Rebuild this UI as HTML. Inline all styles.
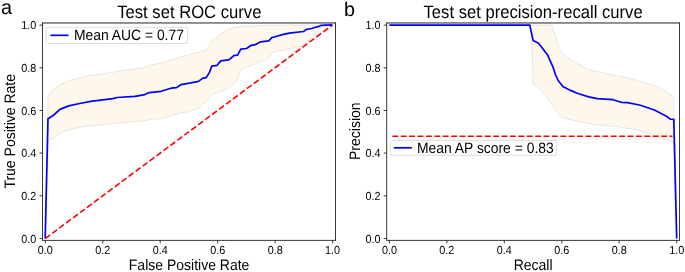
<!DOCTYPE html>
<html><head><meta charset="utf-8"><title>ROC / PR curves</title>
<style>
html,body{margin:0;padding:0;background:#fff;}
body{width:685px;height:272px;overflow:hidden;font-family:"Liberation Sans",sans-serif;}
svg{display:block;will-change:transform;}
text{font-family:"Liberation Sans",sans-serif;fill:#000;text-rendering:geometricPrecision;}
.tk{font-size:10.8px;}
.lb{font-size:14.0px;}
.lg{font-size:13.9px;}
.tt{font-size:16.65px;}
.pl{font-size:19.8px;}
</style></head><body>
<svg width="685" height="272" viewBox="0 0 685 272">
<rect x="0" y="0" width="685" height="272" fill="#ffffff"/>

<polygon points="45.2,238.5 48.1,97.5 49.9,93.1 55.4,87.6 62.1,83.8 68.7,81.0 84.1,76.5 106.2,73.2 128.2,69.9 143.7,67.7 150.3,65.0 161.0,63.0 172.1,59.7 183.1,56.4 194.1,53.1 205.1,50.9 208.5,46.5 212.9,38.8 218.4,36.5 222.8,32.1 229.4,29.3 233.8,27.7 242.7,26.6 253.7,26.0 260.3,25.3 332.2,25.1 332.2,25.1 322.5,25.3 321.2,26.5 318.8,30.6 315.3,33.5 311.8,38.8 305.3,42.4 302.4,46.1 295.3,47.6 283.5,50.0 272.3,52.2 269.9,56.4 266.5,60.0 262.5,60.7 253.7,64.4 241.6,68.8 239.3,73.2 236.0,82.1 229.4,87.6 222.8,90.9 212.9,94.2 208.5,99.7 202.9,104.1 198.5,108.5 187.5,111.8 176.5,114.0 163.2,118.5 150.3,119.6 143.7,121.0 128.2,122.1 106.2,124.3 84.1,126.5 68.7,129.8 59.9,133.5 53.2,138.6 48.1,140.4 45.2,238.5" fill="#fef8ec" stroke="rgba(120,120,120,0.22)" stroke-width="0.8" stroke-linejoin="round"/>
<g transform="scale(1,1.095)"><line x1="45.3" y1="217.81" x2="332.4" y2="22.92" stroke="#ff0000" stroke-width="1.5" stroke-dasharray="5.8 2.6"/></g>
<polyline points="45.2,238.5 48.0,118.8 53.2,115.5 59.9,109.4 68.7,105.9 79.7,103.5 90.7,101.3 112.8,98.6 117.2,97.5 134.9,96.4 144.8,94.6 149.2,92.6 161.0,91.3 171.0,88.2 176.5,87.6 180.9,84.7 189.7,83.2 198.5,81.4 202.9,78.1 206.3,77.6 209.6,72.1 211.8,66.1 217.1,65.3 220.8,60.9 228.8,59.8 234.1,55.5 237.6,55.1 240.8,49.2 246.5,48.5 251.2,45.3 255.3,44.7 260.6,41.8 268.8,40.9 271.8,37.6 275.9,36.5 283.5,34.4 289.4,33.2 303.5,31.5 306.5,29.4 311.8,28.5 315.3,27.3 318.8,26.5 321.2,25.3 332.4,24.9" fill="none" stroke="#0000ff" stroke-width="1.7" stroke-linejoin="round" stroke-linecap="butt"/>
<polygon points="389.4,25.1 551.5,25.1 555.1,34.9 558.5,45.9 561.8,52.5 566.2,56.9 575.0,62.5 583.8,67.0 588.8,70.1 602.1,72.7 615.3,75.4 628.5,78.2 644.0,82.6 655.0,85.7 663.8,90.2 670.4,94.5 673.8,97.5 676.7,238.5 676.7,238.5 673.8,141.9 665.8,139.7 650.4,134.1 637.1,129.7 615.0,126.4 593.0,124.2 575.3,120.9 562.1,117.6 556.6,112.1 552.1,105.0 547.4,98.6 538.6,87.6 533.1,84.3 532.6,60.0 531.5,40.0 529.8,25.1 389.4,25.1" fill="#fef8ec" stroke="rgba(120,120,120,0.22)" stroke-width="0.8" stroke-linejoin="round"/>
<line x1="392.4" y1="136.2" x2="672.5" y2="136.2" stroke="#ff0000" stroke-width="1.5" stroke-dasharray="5.8 2.6"/>
<polyline points="389.4,25.1 529.8,25.1 533.1,40.4 538.6,43.2 547.4,54.7 552.9,66.8 555.6,75.0 558.5,81.0 562.9,86.5 570.6,90.4 577.2,93.3 588.6,96.9 597.4,98.7 613.1,99.7 621.9,102.5 627.4,102.6 639.5,105.0 654.4,110.0 666.9,116.5 670.2,119.1 673.8,119.4 676.7,238.5" fill="none" stroke="#0000ff" stroke-width="1.7" stroke-linejoin="round"/>
<line x1="42.1" y1="22.97" x2="335.9" y2="22.97" stroke="#222" stroke-width="1.0"/>
<line x1="42.5" y1="240.4" x2="335.5" y2="240.4" stroke="#222" stroke-width="0.9"/>
<line x1="42.5" y1="22.57" x2="42.5" y2="240.8" stroke="#222" stroke-width="0.9"/>
<line x1="335.5" y1="22.57" x2="335.5" y2="240.8" stroke="#222" stroke-width="0.9"/>
<line x1="45.3" y1="240.4" x2="45.3" y2="243.4" stroke="#222" stroke-width="0.9"/>
<line x1="39.5" y1="238.5" x2="42.5" y2="238.5" stroke="#222" stroke-width="0.9"/>
<text class="tk" transform="translate(45.30,254.30) scale(1,1.08)" text-anchor="middle">0.0</text>
<text class="tk" transform="translate(36.20,242.70) scale(1,1.08)" text-anchor="end">0.0</text>
<line x1="102.8" y1="240.4" x2="102.8" y2="243.4" stroke="#222" stroke-width="0.9"/>
<line x1="39.5" y1="195.8" x2="42.5" y2="195.8" stroke="#222" stroke-width="0.9"/>
<text class="tk" transform="translate(102.76,254.30) scale(1,1.08)" text-anchor="middle">0.2</text>
<text class="tk" transform="translate(36.20,200.02) scale(1,1.08)" text-anchor="end">0.2</text>
<line x1="160.2" y1="240.4" x2="160.2" y2="243.4" stroke="#222" stroke-width="0.9"/>
<line x1="39.5" y1="153.1" x2="42.5" y2="153.1" stroke="#222" stroke-width="0.9"/>
<text class="tk" transform="translate(160.22,254.30) scale(1,1.08)" text-anchor="middle">0.4</text>
<text class="tk" transform="translate(36.20,157.34) scale(1,1.08)" text-anchor="end">0.4</text>
<line x1="217.7" y1="240.4" x2="217.7" y2="243.4" stroke="#222" stroke-width="0.9"/>
<line x1="39.5" y1="110.5" x2="42.5" y2="110.5" stroke="#222" stroke-width="0.9"/>
<text class="tk" transform="translate(217.68,254.30) scale(1,1.08)" text-anchor="middle">0.6</text>
<text class="tk" transform="translate(36.20,114.66) scale(1,1.08)" text-anchor="end">0.6</text>
<line x1="275.1" y1="240.4" x2="275.1" y2="243.4" stroke="#222" stroke-width="0.9"/>
<line x1="39.5" y1="67.8" x2="42.5" y2="67.8" stroke="#222" stroke-width="0.9"/>
<text class="tk" transform="translate(275.14,254.30) scale(1,1.08)" text-anchor="middle">0.8</text>
<text class="tk" transform="translate(36.20,71.98) scale(1,1.08)" text-anchor="end">0.8</text>
<line x1="332.6" y1="240.4" x2="332.6" y2="243.4" stroke="#222" stroke-width="0.9"/>
<line x1="39.5" y1="25.1" x2="42.5" y2="25.1" stroke="#222" stroke-width="0.9"/>
<text class="tk" transform="translate(332.60,254.30) scale(1,1.08)" text-anchor="middle">1.0</text>
<text class="tk" transform="translate(36.20,29.30) scale(1,1.08)" text-anchor="end">1.0</text>
<line x1="386.3" y1="22.97" x2="679.9" y2="22.97" stroke="#222" stroke-width="1.0"/>
<line x1="386.7" y1="240.4" x2="679.5" y2="240.4" stroke="#222" stroke-width="0.9"/>
<line x1="386.7" y1="22.57" x2="386.7" y2="240.8" stroke="#222" stroke-width="0.9"/>
<line x1="679.5" y1="22.57" x2="679.5" y2="240.8" stroke="#222" stroke-width="0.9"/>
<line x1="389.4" y1="240.4" x2="389.4" y2="243.4" stroke="#222" stroke-width="0.9"/>
<line x1="383.7" y1="238.5" x2="386.7" y2="238.5" stroke="#222" stroke-width="0.9"/>
<text class="tk" transform="translate(389.40,254.30) scale(1,1.08)" text-anchor="middle">0.0</text>
<text class="tk" transform="translate(380.40,242.70) scale(1,1.08)" text-anchor="end">0.0</text>
<line x1="446.9" y1="240.4" x2="446.9" y2="243.4" stroke="#222" stroke-width="0.9"/>
<line x1="383.7" y1="195.8" x2="386.7" y2="195.8" stroke="#222" stroke-width="0.9"/>
<text class="tk" transform="translate(446.86,254.30) scale(1,1.08)" text-anchor="middle">0.2</text>
<text class="tk" transform="translate(380.40,200.02) scale(1,1.08)" text-anchor="end">0.2</text>
<line x1="504.3" y1="240.4" x2="504.3" y2="243.4" stroke="#222" stroke-width="0.9"/>
<line x1="383.7" y1="153.1" x2="386.7" y2="153.1" stroke="#222" stroke-width="0.9"/>
<text class="tk" transform="translate(504.32,254.30) scale(1,1.08)" text-anchor="middle">0.4</text>
<text class="tk" transform="translate(380.40,157.34) scale(1,1.08)" text-anchor="end">0.4</text>
<line x1="561.8" y1="240.4" x2="561.8" y2="243.4" stroke="#222" stroke-width="0.9"/>
<line x1="383.7" y1="110.5" x2="386.7" y2="110.5" stroke="#222" stroke-width="0.9"/>
<text class="tk" transform="translate(561.78,254.30) scale(1,1.08)" text-anchor="middle">0.6</text>
<text class="tk" transform="translate(380.40,114.66) scale(1,1.08)" text-anchor="end">0.6</text>
<line x1="619.2" y1="240.4" x2="619.2" y2="243.4" stroke="#222" stroke-width="0.9"/>
<line x1="383.7" y1="67.8" x2="386.7" y2="67.8" stroke="#222" stroke-width="0.9"/>
<text class="tk" transform="translate(619.24,254.30) scale(1,1.08)" text-anchor="middle">0.8</text>
<text class="tk" transform="translate(380.40,71.98) scale(1,1.08)" text-anchor="end">0.8</text>
<line x1="676.7" y1="240.4" x2="676.7" y2="243.4" stroke="#222" stroke-width="0.9"/>
<line x1="383.7" y1="25.1" x2="386.7" y2="25.1" stroke="#222" stroke-width="0.9"/>
<text class="tk" transform="translate(676.70,254.30) scale(1,1.08)" text-anchor="middle">1.0</text>
<text class="tk" transform="translate(380.40,29.30) scale(1,1.08)" text-anchor="end">1.0</text>
<rect x="46.2" y="27.3" width="141.4" height="16.2" rx="1.6" ry="1.6" fill="rgba(255,255,255,0.8)" stroke="#d4d4d4" stroke-width="0.8"/><line x1="50.4" y1="35.3" x2="68.5" y2="35.3" stroke="#0000ff" stroke-width="1.7"/><text class="lg" transform="translate(73.90,40.10) scale(1,1.08)" text-anchor="start">Mean AUC = 0.77</text>
<rect x="390.6" y="140.3" width="166.0" height="15.0" rx="1.6" ry="1.6" fill="rgba(255,255,255,0.8)" stroke="#d4d4d4" stroke-width="0.8"/><line x1="393.8" y1="147.8" x2="411.8" y2="147.8" stroke="#0000ff" stroke-width="1.7"/><text class="lg" transform="translate(416.90,152.50) scale(1,1.08)" text-anchor="start">Mean AP score = 0.83</text>
<text class="tt" transform="translate(189.30,18.00) scale(1,1.08)" text-anchor="middle">Test set ROC curve</text>
<text class="tt" transform="translate(533.10,18.00) scale(1,1.08)" text-anchor="middle">Test set precision-recall curve</text>
<text class="lb" transform="translate(189.10,269.90) scale(1,1.08)" text-anchor="middle">False Positive Rate</text>
<text class="lb" transform="translate(533.10,269.90) scale(1,1.08)" text-anchor="middle">Recall</text>
<text class="lb" transform="translate(15.30,131.30) rotate(-90) scale(1,1.08)" text-anchor="middle">True Positive Rate</text>
<text class="lb" transform="translate(360.10,131.20) rotate(-90) scale(1,1.08)" text-anchor="middle">Precision</text>
<text class="pl" transform="translate(1.00,14.10) scale(1,1.02)" text-anchor="start">a</text>
<text class="pl" transform="translate(344.00,15.70) scale(1,1.0)" text-anchor="start">b</text>
</svg></body></html>
